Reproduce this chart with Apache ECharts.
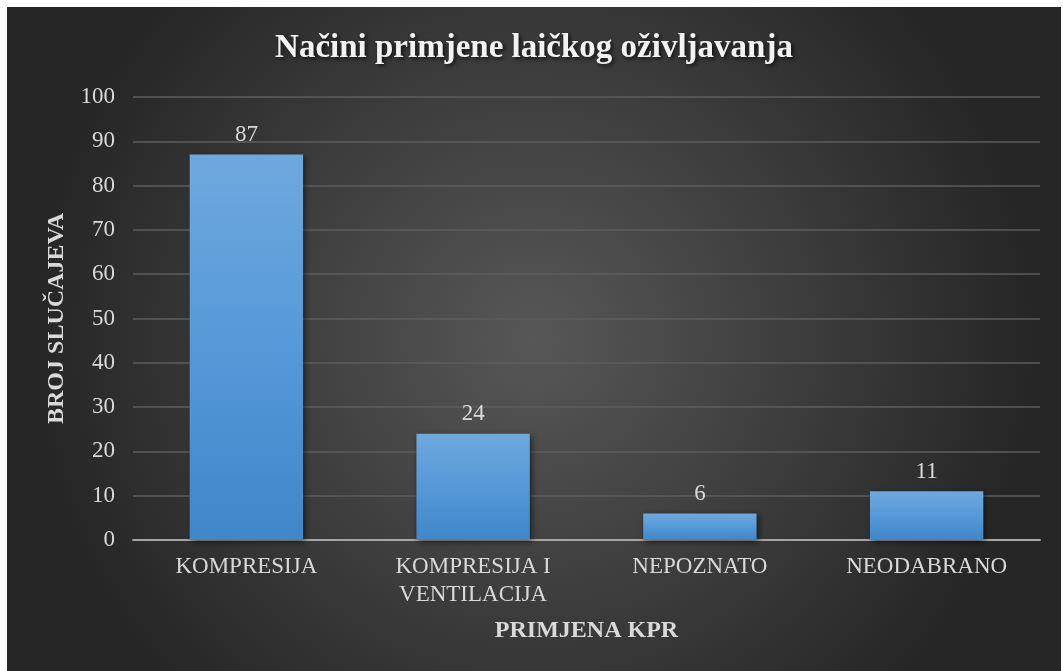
<!DOCTYPE html>
<html lang="hr">
<head>
    <meta charset="UTF-8">
    <title>Načini primjene laičkog oživljavanja</title>
    <script src="https://cdn.jsdelivr.net/npm/echarts@6/dist/echarts.min.js"></script>
    <style>
        body { margin: 0; background: #ffffff; }
        #main { position: absolute; left: 7px; top: 7px; width: 1054px; height: 664px; }
    </style>
</head>
<body>
<div id="main"></div>
<script type="text/javascript">
    // podaci
    var kategorije = ['KOMPRESIJA', 'KOMPRESIJA I\nVENTILACIJA', 'NEPOZNATO', 'NEODABRANO'];
    var brojSlucajeva = [87, 24, 6, 11];
    var naslov = 'Načini primjene laičkog oživljavanja';
    var nazivX = 'PRIMJENA KPR';
    var nazivY = 'BROJ SLUČAJEVA';

    var myChart = echarts.init(document.getElementById('main'));
    var serif = '"Liberation Serif", "DejaVu Serif", serif';
    var svijetlo = '#d9d9d9';

    var option = {
        // tamna radijalna pozadina
        backgroundColor: new echarts.graphic.RadialGradient(0.5, 0.5, 0.75, [
            {offset: 0, color: '#575757'},
            {offset: 1, color: '#262626'}
        ]),
        title: {
            text: naslov,
            left: 'center',
            top: 20,
            textStyle: {
                fontFamily: serif,
                fontSize: 33,
                fontWeight: 'bold',
                color: '#f2f2f2',
                textShadowColor: 'rgba(0,0,0,0.7)',
                textShadowBlur: 4,
                textShadowOffsetX: 2,
                textShadowOffsetY: 2
            }
        },
        grid: {left: 126, right: 21, top: 90, bottom: 131, containLabel: false},
        xAxis: {
            type: 'category',
            data: kategorije,
            name: nazivX,
            nameLocation: 'middle',
            nameGap: 79,
            nameTextStyle: {fontFamily: serif, fontSize: 24, fontWeight: 'bold', color: svijetlo},
            axisLine: {lineStyle: {color: '#a6a6a6', width: 2}},
            axisTick: {show: false},
            axisLabel: {fontFamily: serif, fontSize: 23, color: svijetlo, margin: 13, lineHeight: 28, interval: 0}
        },
        yAxis: {
            type: 'value',
            min: 0,
            max: 100,
            interval: 10,
            name: nazivY,
            nameLocation: 'middle',
            nameRotate: 90,
            nameGap: 64,
            nameTextStyle: {fontFamily: serif, fontSize: 24, fontWeight: 'bold', color: svijetlo},
            axisLine: {show: false},
            axisTick: {show: false},
            axisLabel: {fontFamily: serif, fontSize: 23, color: svijetlo, margin: 18},
            splitLine: {lineStyle: {color: '#5e5e5e', width: 1.5}}
        },
        series: [{
            type: 'bar',
            data: brojSlucajeva,
            barWidth: '50%',
            z: 1,
            label: {
                show: true,
                position: 'top',
                distance: 8,
                fontFamily: serif,
                fontSize: 23,
                color: svijetlo
            },
            itemStyle: {
                color: new echarts.graphic.LinearGradient(0, 0, 0, 1, [
                    {offset: 0, color: '#6fa8dd'},
                    {offset: 0.5, color: '#5599d8'},
                    {offset: 1, color: '#3f87ca'}
                ]),
                shadowColor: 'rgba(0,0,0,0.55)',
                shadowBlur: 6,
                shadowOffsetX: 2,
                shadowOffsetY: 2
            }
        }]
    };
    myChart.setOption(option);
</script>
</body>
</html>
